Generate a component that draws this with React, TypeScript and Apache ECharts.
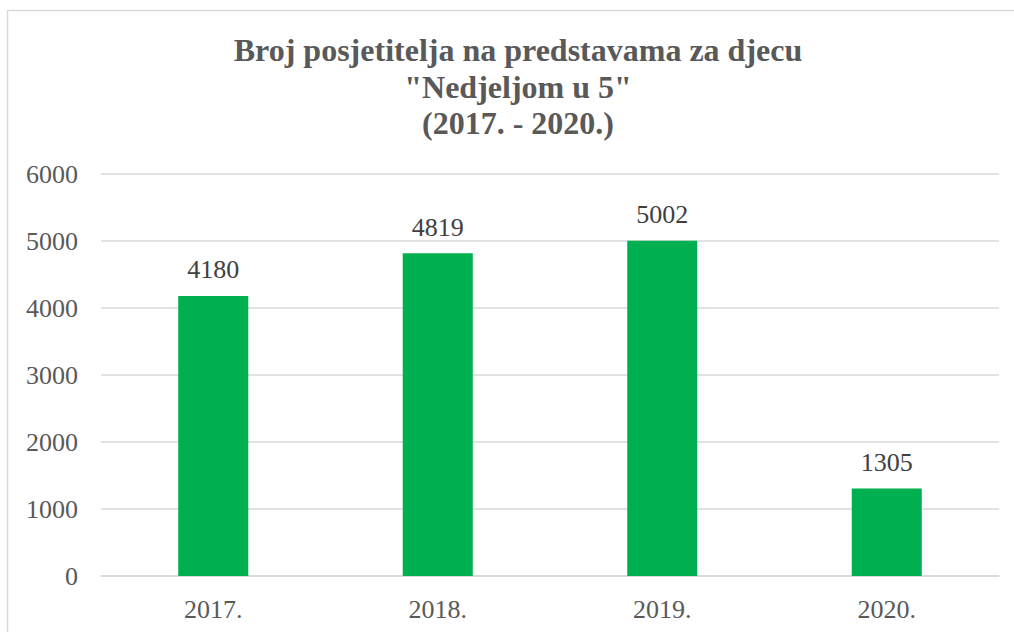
import React, { useEffect, useRef } from "react";
import * as echarts from "echarts";

const categories = ["2017.", "2018.", "2019.", "2020."];
const visitors = [4180, 4819, 5002, 1305];
const titleLines = [
  "Broj posjetitelja na predstavama za djecu",
  "\"Nedjeljom u 5\"",
  "(2017. - 2020.)",
];

const FONT = "Liberation Serif";

export default function App() {
  const ref = useRef<HTMLDivElement>(null);
  useEffect(() => {
    if (!ref.current) return;
    const chart = echarts.init(ref.current, undefined, { renderer: "svg" });
    chart.setOption({
      animation: false,
      backgroundColor: "#ffffff",
      textStyle: { fontFamily: FONT },
      graphic: [
        {
          type: "rect",
          shape: { x: 7.5, y: 10.5, width: 1100, height: 700 },
          style: { fill: "none", stroke: "#d9d9d9", lineWidth: 1.5 },
          silent: true,
        },
        {
          type: "text",
          x: 518,
          y: 32,
          style: {
            text: titleLines.join("\n"),
            fontFamily: FONT,
            fontSize: 32,
            fontWeight: "bold",
            lineHeight: 36.5,
            fill: "#595959",
            textAlign: "center",
            textVerticalAlign: "top",
          },
        },
      ],
      grid: { left: 101, right: 15, top: 174, bottom: 56, containLabel: false },
      xAxis: {
        type: "category",
        data: categories,
        axisLine: { show: true, lineStyle: { color: "#d9d9d9", width: 1.5 } },
        axisTick: { show: false },
        axisLabel: {
          fontFamily: FONT,
          fontSize: 26,
          color: "#595959",
          margin: 20,
        },
      },
      yAxis: {
        type: "value",
        min: 0,
        max: 6000,
        interval: 1000,
        axisLine: { show: false },
        axisTick: { show: false },
        axisLabel: {
          fontFamily: FONT,
          fontSize: 26,
          color: "#595959",
          margin: 23,
          formatter: (v: number) => String(v),
        },
        splitLine: { lineStyle: { color: "#d9d9d9", width: 1.5 } },
      },
      series: [
        {
          type: "bar",
          data: visitors,
          barWidth: "31.2%",
          itemStyle: { color: "#00b050" },
          label: {
            show: true,
            position: "top",
            distance: 13,
            fontFamily: FONT,
            fontSize: 26,
            color: "#404040",
          },
        },
      ],
    });
    return () => chart.dispose();
  }, []);
  return (
    <div
      ref={ref}
      style={{ position: "absolute", left: 0, top: 0, width: 1014, height: 632 }}
    />
  );
}
